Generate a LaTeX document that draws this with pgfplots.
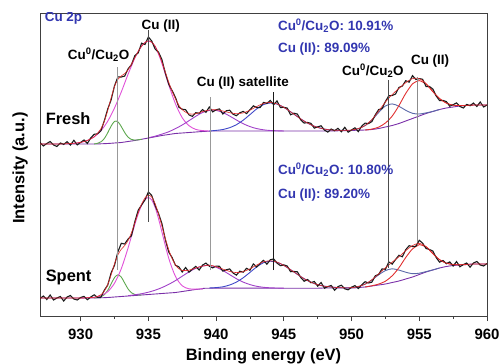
\documentclass[border=0pt]{standalone}
\usepackage{pgfplots}
\pgfplotsset{compat=1.18}
\usepackage{fontspec}
\setmainfont{Liberation Sans}
\definecolor{cdata}{HTML}{1A1A1A}
\definecolor{cenv}{HTML}{E02828}
\definecolor{cbase}{HTML}{7A2FA8}
\definecolor{cgreen}{HTML}{5DA84E}
\definecolor{cmag}{HTML}{E050D8}
\definecolor{csat}{HTML}{A040C8}
\definecolor{cblue}{HTML}{4048C8}
\definecolor{cbtwo}{HTML}{5A68A8}
\definecolor{cred}{HTML}{E03030}
\definecolor{ctxt}{HTML}{3236B0}
\newcommand{\lab}{\bfseries\fontsize{13.5}{15}\selectfont}
\newcommand{\cuo}{Cu\textsuperscript{0}/Cu\textsubscript{2}O}
\begin{document}
\begin{tikzpicture}
\begin{axis}[name=ax, width=447bp, height=303bp, scale only axis,
  xmin=927, xmax=960, ymin=0, ymax=303,
  xtick={930,935,...,960}, minor x tick num=1, ytick=\empty,
  xtick pos=left, tick align=outside, major tick length=5bp, minor tick length=3bp,
  axis line style={draw=black!75, line width=0.8pt},
  every tick/.style={black!75, line width=0.8pt},
  /pgf/number format/assume math mode=true,
  /pgf/number format/1000 sep={},
  xticklabel style={font=\bfseries\fontsize{15}{15}\selectfont, yshift=-5bp},
  xlabel={Binding energy (eV)}, ylabel={Intensity (a.u.)},
  xlabel style={font=\bfseries\fontsize{16.5}{18}\selectfont, at={(axis description cs:0.5,-0.132)}, anchor=center},
  ylabel style={font=\bfseries\fontsize{16.5}{18}\selectfont, at={(axis description cs:-0.0447,0.488)}, anchor=center},
  clip=true]

% ---------------- Fresh ----------------
\addplot[cbase, line width=0.9pt, smooth] coordinates {(927,172)(928,172)(929,172)(930,172)(931,172)(931.5,172.2)(932,172.5)(932.5,173)(933,173.5)(933.5,174.5)(934,175.5)(934.5,176.7)(935,178)(935.5,179.2)(936,180.5)(936.5,181.5)(937,182.5)(937.5,183)(938,183.5)(938.5,184)(939,184.5)(939.5,184.8)(940,185)(944,185)(948,185)(949,185.2)(950,185.6)(951,186)(951.5,186.5)(952,187.5)(952.5,189)(953,190.5)(953.5,192.5)(954,195)(954.5,197.5)(955,200)(955.5,202.5)(956,204.5)(956.5,206.5)(957,208)(957.5,209)(958,210)(958.5,210.5)(959,211)(960,211)};
\addplot[cgreen, line width=0.9pt, smooth] coordinates {(931,172.1)(931.25,172.7)(931.5,174.2)(931.75,177.5)(932,183.2)(932.25,189.9)(932.5,194.6)(932.75,194.2)(933,189.5)(933.25,183.5)(933.5,178.9)(933.75,176.6)(934,175.9)(934.5,176.7)};
\addplot[cmag, line width=0.9pt, smooth] coordinates {(929,172.3)(929.5,172.7)(930,173.6)(930.5,175.6)(931,179.1)(931.5,185.3)(932,194.8)(932.5,208)(933,224)(933.5,241.7)(934,257.9)(934.25,264.6)(934.5,269.8)(934.75,273.4)(935,275)(935.25,273.8)(935.5,269.3)(935.75,261.9)(936,252.6)(936.5,231.3)(937,212.2)(937.5,198.3)(938,190.3)(938.5,186.6)(939,185.4)(939.5,185)};
\addplot[csat, line width=0.9pt, smooth] coordinates {(935,178.25)(935.5,179.8)(936,181.9)(936.5,184.2)(937,187.4)(937.5,191)(938,195.3)(938.5,199.7)(939,203.5)(939.5,205.6)(940,205.6)(940.5,203.5)(941,200)(941.5,196)(942,192.3)(942.5,189.4)(943,187.4)(943.5,186.2)(944,185.5)(945,185)};
\addplot[cblue, line width=0.9pt, smooth] coordinates {(939.5,185)(940,185.6)(940.5,186.5)(941,188.3)(941.5,191.3)(942,195.8)(942.5,201.4)(943,207.1)(943.5,211.4)(944,213)(944.5,211.9)(945,208.7)(945.5,204.2)(946,199.4)(946.5,194.9)(947,191.2)(947.5,188.6)(948,186.9)(948.5,186)(949,185.6)(949.5,185.6)};
\addplot[cbtwo, line width=0.9pt, smooth] coordinates {(950,186)(950.5,187.4)(951,190.4)(951.5,196)(952,203.5)(952.5,210)(953,212.1)(953.5,209.7)(954,205.7)(954.5,202.7)(955,202)(955.5,203.1)(956,204.6)(956.5,206.5)};
\addplot[cred, line width=0.9pt, smooth] coordinates {(951,186)(951.5,186.9)(952,188.9)(952.5,193)(953,199.9)(953.5,210.4)(954,222.6)(954.5,232.2)(954.75,234.3)(955,235.4)(955.5,231.9)(956,224.4)(956.5,217.4)(957,212.9)(957.5,210.8)(958,210.5)(958.5,210.6)(959,211)};
\addplot[cdata, line width=1.1pt] coordinates {(927,173.5)(927.25,170)(927.5,172.5)(927.75,174.5)(928,171)(928.25,169.5)(928.5,173)(928.75,171.6)(929,174.3)(929.25,171)(929.5,175.7)(929.75,171.1)(930,173.6)(930.25,176)(930.5,172.6)(930.75,178.2)(931,181.7)(931.25,182.2)(931.5,185.3)(931.75,195.3)(932,207)(932.25,216.1)(932.5,230.1)(932.75,239.1)(933,239)(933.25,239.9)(933.5,247.1)(933.75,251.3)(934,260.3)(934.25,263.1)(934.5,272.8)(934.75,271.5)(935,279)(935.25,275)(935.5,266.9)(935.75,263.8)(936,256.5)(936.25,243.1)(936.5,232)(936.75,225.4)(937,218.6)(937.25,208.8)(937.5,206.8)(937.75,206.3)(938,201.1)(938.25,199.6)(938.5,203.3)(938.75,202.8)(939,206.4)(939.25,203.7)(939.5,209)(939.75,204.1)(940,206.2)(940.25,207.1)(940.5,202)(940.75,205.2)(941,205.8)(941.25,201.8)(941.5,200.3)(941.75,203.2)(942,204.6)(942.25,202.4)(942.5,206.3)(942.75,210.1)(943,208.5)(943.25,208.5)(943.5,213.6)(943.75,212.6)(944,215.5)(944.25,211.3)(944.5,215.1)(944.75,208.4)(945,208.7)(945.25,207.9)(945.5,201.2)(945.75,202.8)(946,201.9)(946.25,196.1)(946.5,192.9)(946.75,193.5)(947,192.7)(947.25,187.9)(947.5,189.1)(947.75,190.2)(948,185.9)(948.25,183.9)(948.5,187)(948.75,185.3)(949,187.7)(949.25,184.2)(949.5,188.7)(949.75,183.8)(950,186)(950.25,188.2)(950.5,184.4)(950.75,189.9)(951,192.9)(951.25,192.4)(951.5,194.4)(951.75,201.1)(952,206.4)(952.25,207.4)(952.5,214.5)(952.75,220.2)(953,220.5)(953.25,222)(953.5,228.6)(953.75,229.9)(954,235.3)(954.25,233.8)(954.5,240.4)(954.75,236.5)(955,237.4)(955.25,236.7)(955.5,229.5)(955.75,229.5)(956,227)(956.25,220)(956.5,215.4)(956.75,215.6)(957,214.4)(957.25,209.8)(957.5,211.3)(957.75,213.1)(958,209.5)(958.25,208)(958.5,211.6)(958.75,210.3)(959,213)(959.25,209.5)(959.5,214)(959.75,209)(960,211)};
\addplot[cenv, line width=0.6pt, smooth] coordinates {(927,172)(928,172)(928.5,172)(929,172.3)(929.5,172.7)(930,173.6)(930.5,175.6)(931,179.2)(931.5,187.3)(931.75,194.8)(932,205.5)(932.25,218.1)(932.5,229.6)(932.75,236.6)(933,240)(933.25,242.4)(933.5,246.1)(933.75,251.8)(934,258.3)(934.25,264.6)(934.5,269.8)(934.75,273.4)(935,275.3)(935.25,273.8)(935.5,269.9)(935.75,262.8)(936,254)(936.25,244.1)(936.5,234)(936.75,224.9)(937,217.1)(937.25,210.8)(937.5,206.3)(938,202.1)(938.5,202.3)(939,204.4)(939.5,206)(940,206.2)(940.5,205)(941,203.3)(941.5,202.3)(942,203.1)(942.5,205.8)(943,209.5)(943.5,212.6)(944,213.5)(944.5,212.1)(945,208.7)(945.5,204.2)(946,199.4)(946.5,194.9)(947,191.2)(947.5,188.6)(948,186.9)(948.5,186)(949,185.7)(949.5,185.7)(950,186)(950.5,187.4)(951,190.4)(951.5,196.4)(952,204.9)(952.5,214)(953,221.5)(953.5,227.6)(954,233.3)(954.5,237.4)(955,237.4)(955.5,232.5)(956,224.5)(956.5,217.4)(957,212.9)(957.5,210.8)(958,210.5)(958.5,210.6)(959,211)(960,211)};

% ---------------- Spent ----------------
\addplot[cbase, line width=0.9pt, smooth] coordinates {(927,18)(929,18)(931,18)(931.5,18.2)(932,18.5)(932.5,19)(933,19.5)(933.5,20)(934,20.5)(934.5,21)(935,21.5)(935.5,22)(936,22.5)(936.5,23)(937,23.5)(937.5,24.5)(938,25.5)(938.5,26.5)(939,27.2)(939.5,27.8)(944,27.8)(947.5,27.8)(948,28)(950,28)(950.5,28.5)(951,29)(951.5,30)(952,31)(952.5,32)(953,33.5)(953.5,35)(954,37)(954.5,39)(955,41.5)(955.5,44)(956,46)(956.5,48)(957,49.5)(957.5,50.5)(958,51)(958.5,51.5)(959,52)(960,52)};
\addplot[cgreen, line width=0.9pt, smooth] coordinates {(931,18)(931.5,19.2)(931.75,21.3)(932,25.6)(932.25,32)(932.5,38.4)(932.75,41.2)(933,38.9)(933.25,33)(933.5,27.1)(933.75,23.2)(934,21.5)(934.5,21)};
\addplot[cmag, line width=0.9pt, smooth] coordinates {(930,18)(930.5,18.3)(931,18.65)(931.5,20.3)(932,24.3)(932.5,32.8)(933,47.3)(933.5,68)(934,91.5)(934.25,102.1)(934.5,110.7)(934.75,116.3)(935,118.5)(935.25,116)(935.5,108.6)(935.75,97.3)(936,84.1)(936.5,57.9)(937,39.6)(937.5,30.2)(938,27.2)(938.5,26.9)(939,27.2)};
\addplot[csat, line width=0.9pt, smooth] coordinates {(933.5,20.3)(934,21.2)(934.5,22.3)(935,23.8)(935.5,25.8)(936,28.4)(936.5,31.6)(937,35.4)(937.5,39.8)(938,44.1)(938.5,47.7)(939,49.9)(939.5,50.6)(940,48.8)(940.5,45.5)(941,41.4)(941.5,37.3)(942,33.9)(942.5,31.4)(943,29.7)(943.5,28.7)(944,28.2)(945,27.8)};
\addplot[cblue, line width=0.9pt, smooth] coordinates {(939.5,28)(940,28.4)(940.5,29.2)(941,31)(941.5,33.9)(942,38.2)(942.5,43.6)(943,49.1)(943.5,53.3)(944,54.8)(944.5,53.7)(945,50.6)(945.5,46.3)(946,41.7)(946.5,37.3)(947,33.8)(947.5,31.3)(948,29.8)(948.5,29)(949,28.4)(950,28)};
\addplot[cbtwo, line width=0.9pt, smooth] coordinates {(950,28.25)(950.5,29.5)(951,31.8)(951.5,36)(952,41.2)(952.5,45.4)(953,47.2)(953.5,45.9)(954,43.8)(954.5,42.3)(955,42.8)(955.5,44.4)(956,46.1)(956.5,48)};
\addplot[cred, line width=0.9pt, smooth] coordinates {(951,29)(951.5,30.25)(952,31.9)(952.5,34.8)(953,40.2)(953.5,48.3)(954,58.5)(954.5,67.1)(954.9,70.6)(955,71.4)(955.5,69.1)(956,62.4)(956.5,56.3)(957,52.8)(957.5,51.5)(958,51.25)(958.5,51.5)};
\addplot[cdata, line width=1.1pt] coordinates {(927,17.5)(927.25,20)(927.5,16.5)(927.75,21)(928,16)(928.25,18)(928.5,19.5)(928.75,15)(929,19)(929.25,20.5)(929.5,17)(929.75,16)(930,18.5)(930.25,19.6)(930.5,16.3)(930.75,19)(931,21.2)(931.25,18.6)(931.5,18.8)(931.75,25.9)(932,30.9)(932.25,43.1)(932.5,50.7)(932.75,64.1)(933,72.7)(933.25,72)(933.5,76.9)(933.75,80.2)(934,94.2)(934.25,105.8)(934.5,111)(934.75,116.1)(935,124)(935.25,120.5)(935.5,110.4)(935.75,102.6)(936,92.5)(936.25,76.6)(936.5,64)(936.75,58.5)(937,50.7)(937.25,49.2)(937.5,44)(937.75,48.5)(938,43.8)(938.25,46.9)(938.5,49.6)(938.75,46)(939,50.9)(939.25,52.9)(939.5,49.8)(939.75,48.1)(940,49.9)(940.25,49.7)(940.5,44.9)(940.75,46.2)(941,47.1)(941.25,43)(941.5,40.9)(941.75,44.8)(942,43.8)(942.25,47.7)(942.5,45.7)(942.75,52.1)(943,49)(943.25,52.6)(943.5,55.7)(943.75,51.8)(944,56.2)(944.25,57.1)(944.5,52.9)(944.75,50.3)(945,51.1)(945.25,50)(945.5,44.3)(945.75,44.5)(946,44.2)(946.25,38.5)(946.5,34.8)(946.75,36.5)(947,33.3)(947.25,34.5)(947.5,29.8)(947.75,33.5)(948,27.8)(948.25,29.4)(948.5,30.5)(948.75,25.7)(949,29.4)(949.25,30.8)(949.5,27.2)(949.75,26.2)(950,28.8)(950.25,30.4)(950.5,27.5)(950.75,31.1)(951,34.3)(951.25,33)(951.5,33.8)(951.75,40.2)(952,41.6)(952.25,47.1)(952.5,46.7)(952.75,54)(953,51.9)(953.25,56.5)(953.5,60.7)(953.75,59.2)(954,66.3)(954.25,70.3)(954.5,69.4)(954.75,69.8)(955,75.7)(955.25,72.8)(955.5,67.5)(955.75,66.5)(956,65)(956.25,58.4)(956.5,53.8)(956.75,55.5)(957,52.3)(957.25,54.1)(957.5,50)(957.75,54.4)(958,49.25)(958.25,51.4)(958.5,53)(958.75,48.8)(959,53)(959.25,54.5)(959.5,51)(959.75,50)(960,52.5)};
\addplot[cenv, line width=0.6pt, smooth] coordinates {(927,18)(930,18)(930.5,18.3)(931,18.7)(931.25,19.6)(931.5,21.3)(931.75,24.9)(932,31.4)(932.25,41.1)(932.5,52.2)(932.75,61.1)(933,66.7)(933.25,70.4)(933.5,75.4)(933.75,83.2)(934,93.2)(934.25,103.3)(934.5,112)(934.75,118.1)(935,120.8)(935.25,119)(935.5,112.4)(935.75,102.1)(936,90)(936.25,77.6)(936.5,66.5)(936.75,57.5)(937,51.2)(937.25,47.2)(937.5,45.5)(938,45.8)(938.5,48.1)(939,49.9)(939.5,50.8)(940,49.4)(940.5,46.9)(941,44.6)(941.5,43.4)(942,44.3)(942.5,47.2)(943,51)(943.5,54.2)(944,55.2)(944.5,53.9)(945,50.6)(945.5,46.3)(946,41.7)(946.5,37.3)(947,33.8)(947.5,31.3)(948,29.8)(948.5,29)(949,28.4)(949.5,28.2)(950,28.3)(950.5,29.5)(951,31.8)(951.5,36.3)(952,42.1)(952.5,48.2)(953,53.9)(953.5,59.2)(954,65.3)(954.5,70.4)(955,72.7)(955.5,69.5)(956,62.5)(956.5,56.3)(957,52.8)(957.5,51.5)(958,51.25)(959,52)(960,52)};

% ---------------- reference lines ----------------
\addplot[black!40, line width=0.9pt] coordinates {(932.7,46)(932.7,249)};
\addplot[black!70, line width=0.9pt] coordinates {(935.0,94)(935.0,286)};
\addplot[black!40, line width=0.9pt] coordinates {(939.6,46)(939.6,219)};
\addplot[black!90, line width=0.9pt] coordinates {(944.2,46)(944.2,224)};
\addplot[black!70, line width=0.9pt] coordinates {(952.7,48)(952.7,236)};
\addplot[black!45, line width=0.9pt] coordinates {(954.9,74)(954.9,239)};

% ---------------- labels ----------------
\node[anchor=west, text=ctxt, font=\lab, inner sep=0pt] at (axis cs:927.34,298) {Cu 2p};
\node[anchor=center, font=\lab, inner sep=0pt] at (axis cs:931.33,261) {\cuo};
\node[anchor=center, font=\lab, inner sep=0pt] at (axis cs:935.91,290) {Cu (II)};
\node[anchor=center, font=\lab, inner sep=0pt] at (axis cs:941.97,233) {Cu (II) satellite};
\node[anchor=center, font=\lab, inner sep=0pt] at (axis cs:951.58,245) {\cuo};
\node[anchor=center, font=\lab, inner sep=0pt] at (axis cs:955.8,255) {Cu (II)};
\node[anchor=west, text=ctxt, font=\lab, inner sep=0pt] at (axis cs:944.56,290) {\cuo: 10.91\%};
\node[anchor=west, text=ctxt, font=\lab, inner sep=0pt] at (axis cs:944.56,267) {Cu (II): 89.09\%};
\node[anchor=west, text=ctxt, font=\lab, inner sep=0pt] at (axis cs:944.56,146) {\cuo: 10.80\%};
\node[anchor=west, text=ctxt, font=\lab, inner sep=0pt] at (axis cs:944.56,121) {Cu (II): 89.20\%};
\node[anchor=west, font=\bfseries\fontsize{16.5}{18}\selectfont, inner sep=0pt] at (axis cs:927.41,197) {Fresh};
\node[anchor=west, font=\bfseries\fontsize{16.5}{18}\selectfont, inner sep=0pt] at (axis cs:927.41,39) {Spent};
\end{axis}
\pgfresetboundingbox
\path[use as bounding box] ([shift={(-40bp,-48bp)}]ax.south west) rectangle ([shift={(13bp,13bp)}]ax.north east);
\end{tikzpicture}
\end{document}
